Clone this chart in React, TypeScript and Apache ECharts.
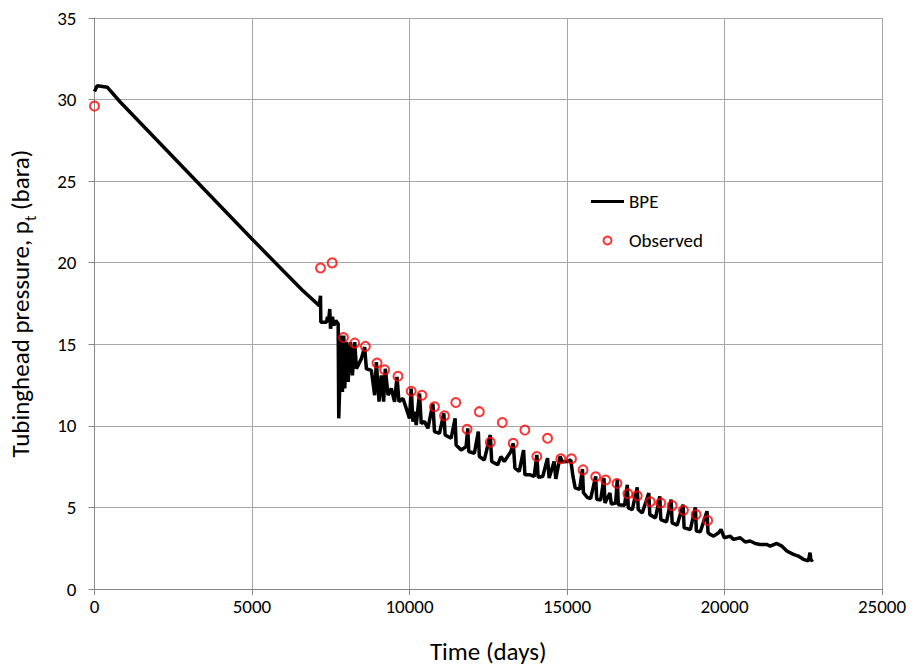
import React, { useEffect, useRef } from "react";
import * as echarts from "echarts";

const xTicks = [0, 5000, 10000, 15000, 20000, 25000];
const yTicks = [0, 5, 10, 15, 20, 25, 30, 35];

const obsDays = [0, 7175, 7545, 7903, 8261, 8600, 8969, 9210, 9634, 10055, 10393, 10793, 11110, 11470, 11828, 12217, 12565, 12945, 13293, 13663, 14043, 14382, 14803, 15142, 15509, 15911, 16227, 16585, 16933, 17230, 17642, 17977, 18338, 18696, 19098, 19465];
const obsValues = [29.6, 19.68, 19.99, 15.41, 15.07, 14.87, 13.85, 13.44, 13.04, 12.12, 11.88, 11.17, 10.62, 11.43, 9.79, 10.87, 8.99, 10.2, 8.93, 9.74, 8.12, 9.24, 7.98, 7.98, 7.3, 6.88, 6.68, 6.47, 5.84, 5.72, 5.35, 5.27, 5.11, 4.83, 4.56, 4.2];

const bpeDays = [0, 85, 411, 817, 5000, 6584, 7134, 7175, 7185, 7365, 7397, 7428, 7469, 7492, 7555, 7596, 7659, 7735, 7754, 7786, 7840, 7871, 7913, 7944, 7998, 8052, 8125, 8188, 8261, 8315, 8473, 8577, 8631, 8789, 8894, 8948, 9033, 9106, 9179, 9232, 9318, 9422, 9527, 9603, 9666, 9793, 9897, 10001, 10055, 10109, 10160, 10213, 10318, 10372, 10476, 10584, 10742, 10793, 10951, 11090, 11131, 11321, 11448, 11480, 11638, 11796, 11850, 11881, 12059, 12185, 12217, 12375, 12565, 12609, 12799, 12904, 13008, 13220, 13293, 13347, 13483, 13622, 13664, 13831, 13958, 14043, 14084, 14230, 14382, 14433, 14591, 14645, 14781, 14850, 15015, 15119, 15190, 15260, 15400, 15490, 15522, 15650, 15752, 15911, 15943, 16069, 16173, 16205, 16363, 16407, 16543, 16597, 16629, 16828, 16914, 16945, 17072, 17230, 17262, 17388, 17597, 17629, 17810, 17946, 17977, 18158, 18306, 18338, 18496, 18686, 18718, 18917, 19075, 19107, 19233, 19445, 19477, 19550, 19655, 19813, 19889, 19994, 20184, 20288, 20500, 20658, 20816, 20975, 21133, 21345, 21449, 21661, 21819, 21978, 22187, 22345, 22503, 22662, 22715, 22747, 22801];
const bpeValues = [30.5, 30.85, 30.75, 29.85, 21.45, 18.34, 17.37, 17.98, 16.35, 16.35, 16.68, 16.37, 17.16, 15.95, 16.68, 16.15, 16.45, 16.25, 10.46, 12.49, 15.54, 12.08, 15.54, 12.29, 15.13, 12.7, 15.13, 13.1, 15.13, 13.5, 14.12, 14.83, 13.5, 13.4, 11.88, 13.91, 11.48, 13.1, 11.48, 13.5, 11.88, 12.29, 11.48, 13.0, 11.48, 11.68, 11.07, 10.46, 12.29, 10.26, 10.87, 10.05, 11.98, 10.15, 10.26, 9.85, 11.37, 9.65, 9.54, 10.76, 9.44, 9.24, 10.46, 8.83, 8.52, 8.73, 9.85, 8.43, 8.32, 9.65, 8.12, 7.91, 9.44, 7.82, 7.61, 8.12, 7.82, 8.43, 8.93, 7.41, 7.21, 8.52, 7.0, 7.0, 6.9, 8.22, 6.85, 6.9, 8.02, 6.8, 7.82, 6.75, 8.12, 7.8, 7.82, 7.91, 6.9, 6.2, 6.1, 7.35, 5.9, 5.6, 5.55, 6.9, 5.5, 5.45, 6.8, 5.27, 5.88, 5.21, 5.27, 6.7, 5.17, 5.13, 6.39, 4.97, 4.87, 6.23, 4.87, 4.66, 5.88, 4.56, 4.36, 5.68, 4.26, 4.12, 5.48, 4.05, 3.91, 5.17, 3.75, 3.65, 5.01, 3.55, 3.51, 4.77, 3.45, 3.34, 3.24, 3.45, 3.65, 3.14, 3.24, 3.04, 3.14, 2.88, 2.94, 2.79, 2.73, 2.73, 2.63, 2.79, 2.63, 2.33, 2.12, 2.02, 1.82, 1.72, 2.23, 1.72, 1.82];

const FONT = "Carlito, Lato, 'Liberation Sans', sans-serif";

export default function App() {
  const ref = useRef<HTMLDivElement>(null);
  useEffect(() => {
    if (!ref.current) return;
    const chart = echarts.init(ref.current, null, { renderer: "svg" });
    const bpe = bpeDays.map((d, i) => [d, bpeValues[i]]);
    const obs = obsDays.map((d, i) => [d, obsValues[i]]);
    chart.setOption({
      animation: false,
      backgroundColor: "#ffffff",
      grid: { left: 92, right: 33, top: 18, bottom: 78, containLabel: false },
      legend: {
        orient: "vertical",
        left: 586,
        top: 187,
        itemWidth: 33,
        itemHeight: 8,
        itemGap: 20,
        textStyle: { fontFamily: FONT, fontSize: 19, color: "#000" },
        data: [
          { name: "BPE", icon: "path://M0,0 L33,0 L33,3 L0,3 Z" },
          { name: "Observed" },
        ],
      },
      xAxis: {
        type: "value",
        min: xTicks[0],
        max: xTicks[xTicks.length - 1],
        interval: 5000,
        name: "Time (days)",
        nameLocation: "middle",
        nameGap: 50,
        nameTextStyle: { fontFamily: FONT, fontSize: 25, color: "#000" },
        axisLine: { show: true, lineStyle: { color: "#868686", width: 1 } },
        axisTick: { show: true, length: 6, lineStyle: { color: "#868686" } },
        axisLabel: {
          fontFamily: FONT,
          fontSize: 19,
          color: "#000",
          margin: 8,
          formatter: (v: number) => String(v),
        },
        splitLine: { show: true, lineStyle: { color: "#a6a6a6", width: 1 } },
      },
      yAxis: {
        type: "value",
        min: yTicks[0],
        max: yTicks[yTicks.length - 1],
        interval: 5,
        name: "Tubinghead pressure, p{sub|t} (bara)",
        nameLocation: "middle",
        nameGap: 56,
        nameRotate: 90,
        nameTextStyle: {
          fontFamily: FONT,
          fontSize: 25,
          color: "#000",
          rich: {
            sub: { fontFamily: FONT, fontSize: 16, color: "#000", verticalAlign: "bottom", lineHeight: 36 },
          },
        },
        axisLine: { show: true, lineStyle: { color: "#868686", width: 1 } },
        axisTick: { show: true, length: 6, lineStyle: { color: "#868686" } },
        axisLabel: { fontFamily: FONT, fontSize: 19, color: "#000", margin: 18 },
        splitLine: { show: true, lineStyle: { color: "#a6a6a6", width: 1 } },
      },
      series: [
        {
          name: "BPE",
          type: "line",
          data: bpe,
          symbol: "none",
          showSymbol: false,
          lineStyle: { color: "#000", width: 3.5 },
          itemStyle: { color: "#000" },
          z: 2,
        },
        {
          name: "Observed",
          type: "scatter",
          data: obs,
          symbol: "circle",
          symbolSize: 9,
          itemStyle: { color: "rgba(0,0,0,0)", borderColor: "#ff0000", borderWidth: 2 },
          z: 3,
        },
      ],
    });
    return () => chart.dispose();
  }, []);
  return (
    <div
      ref={ref}
      style={{ position: "fixed", left: 0, top: 0, width: 915, height: 669, background: "#fff" }}
    />
  );
}
